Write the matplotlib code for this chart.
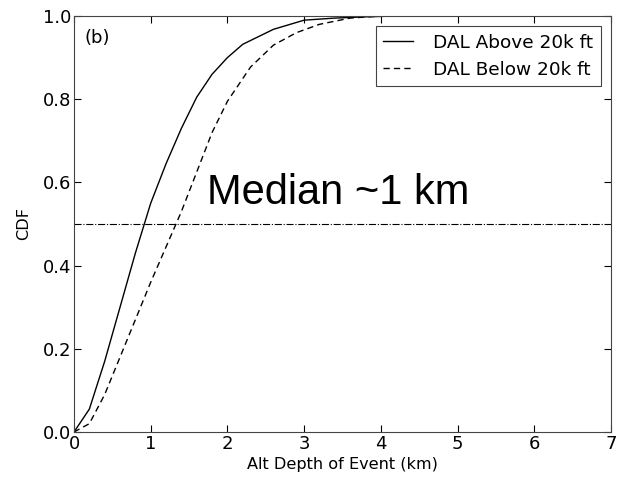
import matplotlib
matplotlib.use('Agg')
import matplotlib.pyplot as plt

# CDF of alt depth of event
x_above = [0.0, 0.2, 0.4, 0.6, 0.8, 1.0, 1.2, 1.4, 1.6, 1.8, 2.0, 2.2, 2.6, 3.0, 3.4, 3.8, 4.2, 5.0, 6.1]
cdf_above = [0.0, 0.055, 0.17, 0.30, 0.43, 0.55, 0.645, 0.73, 0.805, 0.86, 0.90, 0.932, 0.968, 0.99, 0.995, 0.998, 1.0, 1.0, 1.0]

x_below = [0.0, 0.2, 0.4, 0.6, 0.8, 1.0, 1.2, 1.4, 1.6, 1.8, 2.0, 2.3, 2.6, 2.9, 3.2, 3.6, 4.0, 5.0, 6.1]
cdf_below = [0.0, 0.02, 0.09, 0.18, 0.27, 0.36, 0.445, 0.53, 0.625, 0.72, 0.795, 0.877, 0.93, 0.96, 0.98, 0.995, 1.0, 1.0, 1.0]

median_level = 0.5

fig = plt.figure(figsize=(6.19, 4.78), dpi=100)
ax = fig.add_axes([74/619, 1-432/478, (611-74)/619, (432-16)/478])

ax.plot(x_above, cdf_above, 'k-', lw=1.0, label='DAL Above 20k ft')
ax.plot(x_below, cdf_below, 'k--', lw=1.0, dashes=(4.5, 3), label='DAL Below 20k ft')
ax.axhline(median_level, color='k', ls='-.', lw=0.8)

ax.set_xlim(0, 7)
ax.set_ylim(0, 1.0)
ax.set_xticks(range(0, 8))
ax.set_yticks([0.0, 0.2, 0.4, 0.6, 0.8, 1.0])
ax.tick_params(direction='in', top=True, right=True, labelsize=13, length=5, pad=2)
for s in ax.spines.values():
    s.set_color('#444444')

ax.set_xlabel('Alt Depth of Event (km)', fontsize=11.6, labelpad=3)
ax.set_ylabel('CDF', fontsize=11.6, labelpad=8)

ax.text(0.02, 0.968, '(b)', transform=ax.transAxes, fontsize=13, va='top')
ax.text(3.44, 0.575, 'Median ~1 km', fontsize=30, ha='center', va='center',
        family='Liberation Sans')

leg = ax.legend(loc='upper right', fontsize=13.3, fancybox=False, framealpha=1,
                edgecolor='#444444', handlelength=1.6, handletextpad=1.1,
                labelspacing=0.5, borderpad=0.4, borderaxespad=0.55)
leg.get_frame().set_linewidth(0.8)

fig.savefig('out.png', dpi=100)
